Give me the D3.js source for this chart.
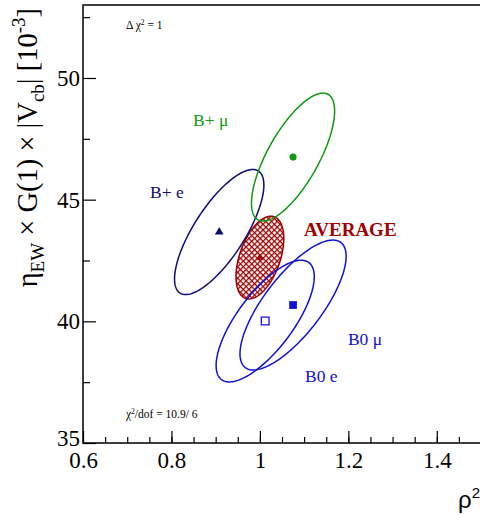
<!DOCTYPE html>
<html>
<head>
<meta charset="utf-8">
<script src="https://cdn.jsdelivr.net/npm/d3@7"></script>
<style>
  body { margin: 0; background: #fff; }
  svg { display: block; }
  text { font-family: 'Liberation Serif', 'Times New Roman', serif; }
</style>
</head>
<body>
<svg id="chart" width="480" height="515"></svg>
<script>
// measurements, one entry per ellipse
const labels = ['B+ e', 'B+ μ', 'B0 e', 'B0 μ', 'AVERAGE']
const rhoSq = [0.908, 1.075, 1.012, 1.075, 1.0]
const vcb = [43.67, 46.75, 40.01, 40.67, 42.62]
const rhoSqErr = [0.101, 0.094, 0.111, 0.120, 0.054]
const vcbErr = [2.57, 2.63, 2.50, 2.67, 1.70]
const corr = [0.75, 0.72, 0.73, 0.75, 0.46]

const xTicks = [0.6, 0.8, 1, 1.2, 1.4]
const yTicks = [35, 40, 45, 50]

// look of each ellipse
const styles = {
  'B+ e': {color: '#0d0d78', marker: d3.symbolTriangle, size: 32, fill: true},
  'B+ μ': {color: '#119a11', marker: d3.symbolCircle, size: 40, fill: true},
  'B0 e': {color: '#1010dd', marker: d3.symbolSquare, size: 60, fill: false},
  'B0 μ': {color: '#1010dd', marker: d3.symbolSquare, size: 60, fill: true},
  'AVERAGE': {color: '#a00000', marker: d3.symbolTriangle, size: 26, fill: true}
}
// where the names sit, in data coordinates
const labelAt = {
  'B+ e': [0.7515, 45.06], 'B+ μ': [0.849, 48.02], 'B0 e': [1.102, 37.5],
  'B0 μ': [1.199, 39.02], 'AVERAGE': [1.0998, 43.5]
}

const svg = d3.select('#chart')
const x = d3.scaleLinear().domain([0.6, 1.5]).range([83, 481])
const y = d3.scaleLinear().domain([35, 53]).range([443, 5])

// hatch for the average
const defs = svg.append('defs')
const pat = defs.append('pattern')
    .attr('id', 'hatch')
    .attr('patternUnits', 'userSpaceOnUse')
    .attr('width', 4)
    .attr('height', 4)
    .attr('patternTransform', 'rotate(45)')
pat.append('rect').attr('width', 4).attr('height', 4).attr('fill', '#fff')
pat.append('path')
    .attr('d', 'M0,0.5H4M0.5,0V4')
    .attr('stroke', styles.AVERAGE.color)
    .attr('stroke-width', 1.6)

function ellipse (i) {
  const r = corr[i]
  return d3.range(0, 361, 2).map(a => {
    const t = a * Math.PI / 180
    return [rhoSq[i] + rhoSqErr[i] * Math.cos(t),
      vcb[i] + vcbErr[i] * (r * Math.cos(t) + Math.sqrt(1 - r * r) * Math.sin(t))]
  })
}
const line = d3.line()
    .x(d => x(d[0]))
    .y(d => y(d[1]))
    .curve(d3.curveLinearClosed)

const order = [4, 0, 1, 2, 3]
svg.append('g')
    .selectAll('path.ell')
    .data(order)
    .enter()
    .append('path')
    .attr('class', 'ell')
    .attr('d', i => line(ellipse(i)))
    .attr('fill', i => labels[i] === 'AVERAGE' ? 'url(#hatch)' : 'none')
    .attr('stroke', i => styles[labels[i]].color)
    .attr('stroke-width', 1.5)

svg.append('g')
    .selectAll('path.mk')
    .data(order)
    .enter()
    .append('path')
    .attr('class', 'mk')
    .attr('transform', i => `translate(${x(rhoSq[i])},${y(vcb[i])})`)
    .attr('d', i => d3.symbol().type(styles[labels[i]].marker).size(styles[labels[i]].size)())
    .attr('fill', i => styles[labels[i]].fill ? styles[labels[i]].color : '#fff')
    .attr('stroke', i => styles[labels[i]].color)
    .attr('stroke-width', i => styles[labels[i]].fill ? 0 : 1.3)

svg.append('g')
    .selectAll('text.lbl')
    .data(labels)
    .enter()
    .append('text')
    .attr('class', 'lbl')
    .attr('x', d => x(labelAt[d][0]))
    .attr('y', d => y(labelAt[d][1]))
    .attr('fill', d => styles[d].color)
    .attr('font-size', d => d === 'AVERAGE' ? 19 : 17.5)
    .attr('font-weight', d => d === 'AVERAGE' ? 'bold' : 'normal')
    .text(d => d)

// axes
const xMinor = d3.range(0.6, 1.5001, 0.05).map(v => +v.toFixed(2))
const yMinor = [37.5, 42.5, 47.5, 52.5]

svg.append('g')
    .attr('transform', `translate(0,${y(35)})`)
    .call(d3.axisBottom(x).tickValues(xMinor).tickSize(-6).tickFormat(''))
svg.append('g')
    .attr('transform', `translate(0,${y(35)})`)
    .call(d3.axisBottom(x).tickValues(xTicks).tickSize(-12).tickPadding(9).tickFormat(d3.format('~g')))
svg.append('g')
    .attr('transform', `translate(${x(0.6)},0)`)
    .call(d3.axisLeft(y).tickValues(yMinor).tickSize(-7).tickFormat(''))
const yAxis = svg.append('g')
    .attr('transform', `translate(${x(0.6)},0)`)
    .call(d3.axisLeft(y).tickValues(yTicks).tickSize(-13).tickPadding(3))
// the lowest label is lifted so it clears the x labels
yAxis.selectAll('.tick text').filter(d => d === 35).attr('dy', '0.1em')

svg.selectAll('.domain').remove()
svg.selectAll('.tick line').attr('stroke', '#000').attr('stroke-width', 1.2)
svg.selectAll('.tick text')
    .attr('font-family', 'Liberation Serif')
    .style('font-family', "'Liberation Serif', serif")
    .style('font-size', '23px')
    .attr('fill', '#000')

svg.append('rect')
    .attr('x', x(0.6))
    .attr('y', y(53))
    .attr('width', x(1.5) - x(0.6))
    .attr('height', y(35) - y(53))
    .attr('fill', 'none')
    .attr('stroke', '#000')
    .attr('stroke-width', 1.5)

// annotations
const dchi = svg.append('text').attr('x', 126).attr('y', 29).attr('font-size', 11.5)
dchi.append('tspan').text('Δ χ')
dchi.append('tspan').attr('font-size', 7.5).attr('dy', -4.5).text('2')
dchi.append('tspan').attr('dy', 4.5).text(' = 1')

const chi = svg.append('text').attr('x', 126).attr('y', 418).attr('font-size', 11.5)
chi.append('tspan').text('χ')
chi.append('tspan').attr('font-size', 7.5).attr('dy', -4.5).text('2')
chi.append('tspan').attr('dy', 4.5).text('/dof = 10.9/ 6')

// axis titles
const xt = svg.append('text')
    .attr('x', 480)
    .attr('y', 508)
    .attr('text-anchor', 'end')
    .style('font-family', "'Liberation Sans', sans-serif")
    .attr('font-size', 24)
xt.append('tspan').text('ρ')
xt.append('tspan').attr('font-size', 15).attr('dy', -10).text('2')

const yt = svg.append('text')
    .attr('transform', 'translate(37,8) rotate(-90)')
    .attr('text-anchor', 'end')
    .attr('font-size', 28.5)
yt.append('tspan').text('η')
yt.append('tspan').attr('font-size', 19).attr('dy', 7).text('EW')
yt.append('tspan').attr('dy', -7).text(' × G(1) × |V')
yt.append('tspan').attr('font-size', 19).attr('dy', 7).text('cb')
yt.append('tspan').attr('dy', -7).text('| [10')
yt.append('tspan').attr('font-size', 19).attr('dy', -12).text('-3')
yt.append('tspan').attr('dy', 12).text(']')
</script>
</body>
</html>
